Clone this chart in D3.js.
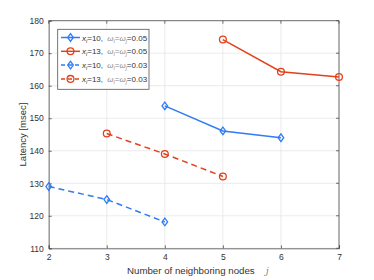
<!DOCTYPE html>
<html><head><meta charset="utf-8">
<script src="https://cdn.jsdelivr.net/npm/d3@7"></script>
<style>body{margin:0;background:#fff}svg{display:block}text{font-family:"Liberation Sans",Arial,sans-serif}</style>
</head><body>
<svg id="c" width="374" height="280"></svg>
<script>
const xTicks = [2,3,4,5,6,7];
const yTicks = [110,120,130,140,150,160,170,180];
const s1x = [4,5,6], s1y = [153.8,146.1,144.0];
const s2x = [5,6,7], s2y = [174.2,164.3,162.7];
const s3x = [2,3,4], s3y = [129.0,125.0,118.1];
const s4x = [3,4,5], s4y = [145.3,139.0,132.1];
const seriesNames = [["10","0.05"],["13","0.05"],["10","0.03"],["13","0.03"]];

const BLUE = "#2e7cf6", RED = "#e2411c";
const series = [
  {x:s1x,y:s1y,c:BLUE,m:"d",dash:null,n:seriesNames[0]},
  {x:s2x,y:s2y,c:RED,m:"o",dash:null,n:seriesNames[1]},
  {x:s3x,y:s3y,c:BLUE,m:"d",dash:"6,4",n:seriesNames[2]},
  {x:s4x,y:s4y,c:RED,m:"o",dash:"6,4",n:seriesNames[3]}
];
const svg = d3.select("#c");
const L=48.7,R=339,T=20.7,B=248.3;
const x = d3.scaleLinear().domain([2,7]).range([L,R]);
const y = d3.scaleLinear().domain([110,180]).range([B,T]);

// grid
svg.append("g").selectAll("line").data(xTicks).join("line")
  .attr("x1",d=>x(d)).attr("x2",d=>x(d)).attr("y1",T).attr("y2",B)
  .attr("stroke","#e6e6e6").attr("stroke-width",0.8);
svg.append("g").selectAll("line").data(yTicks).join("line")
  .attr("y1",d=>y(d)).attr("y2",d=>y(d)).attr("x1",L).attr("x2",R)
  .attr("stroke","#e6e6e6").attr("stroke-width",0.8);

// axes
const gx = svg.append("g").attr("transform",`translate(0,${B})`)
  .call(d3.axisBottom(x).tickValues(xTicks).tickSize(-3).tickPadding(6).tickFormat(d3.format("d")));
const gy = svg.append("g").attr("transform",`translate(${L},0)`)
  .call(d3.axisLeft(y).tickValues(yTicks).tickSize(-3).tickPadding(5).tickFormat(d3.format("d")));
[gx,gy].forEach(g=>{
  g.select(".domain").attr("stroke","#4d4d4d").attr("stroke-width",0.8);
  g.selectAll(".tick line").attr("stroke","#4d4d4d").attr("stroke-width",0.8);
  g.selectAll("text").attr("fill","#333").style("font-size","8.5px");
});
// top and right box lines + ticks
svg.append("line").attr("x1",L).attr("x2",R).attr("y1",T).attr("y2",T).attr("stroke","#4d4d4d").attr("stroke-width",0.8);
svg.append("line").attr("x1",R).attr("x2",R).attr("y1",T).attr("y2",B).attr("stroke","#4d4d4d").attr("stroke-width",0.8);
svg.append("g").selectAll("line").data(xTicks).join("line")
  .attr("x1",d=>x(d)).attr("x2",d=>x(d)).attr("y1",T).attr("y2",T+3).attr("stroke","#4d4d4d").attr("stroke-width",0.8);
svg.append("g").selectAll("line").data(yTicks).join("line")
  .attr("y1",d=>y(d)).attr("y2",d=>y(d)).attr("x1",R).attr("x2",R-3).attr("stroke","#4d4d4d").attr("stroke-width",0.8);

// labels
svg.append("text").attr("transform",`translate(23,${(T+B)/2}) rotate(-90)`)
  .attr("text-anchor","middle").attr("dominant-baseline","middle")
  .style("font-size","9.5px").attr("fill","#333").text("Latency [msec]");
const xl = svg.append("text").attr("x",127).attr("y",274)
  .style("font-size","9.7px").attr("fill","#333");
xl.append("tspan").text("Number of neighboring nodes");
xl.append("tspan").attr("dx","11").style("font-style","italic").style("font-family","'DejaVu Serif',serif").attr("fill","#888").text("j");

function marker(g,m,cx,cy,c){
  if(m==="d"){
    g.append("path").attr("d",`M${cx},${cy-3.8}L${cx+2.8},${cy}L${cx},${cy+3.8}L${cx-2.8},${cy}Z`)
     .attr("fill","none").attr("stroke",c).attr("stroke-width",1.3);
  } else {
    g.append("circle").attr("cx",cx).attr("cy",cy).attr("r",3.4)
     .attr("fill","none").attr("stroke",c).attr("stroke-width",1.3);
  }
}
const line = d3.line().x(d=>x(d[0])).y(d=>y(d[1]));
series.forEach(s=>{
  const pts = s.x.map((v,i)=>[v,s.y[i]]);
  svg.append("path").datum(pts).attr("d",line).attr("fill","none")
    .attr("stroke",s.c).attr("stroke-width",1.5).attr("stroke-dasharray",s.dash);
  const g = svg.append("g");
  pts.forEach(p=>marker(g,s.m,x(p[0]),y(p[1]),s.c));
});

// legend
const lg = svg.append("g");
lg.append("rect").attr("x",57.7).attr("y",29.3).attr("width",91.3).attr("height",60)
  .attr("fill","#fff").attr("stroke","#555").attr("stroke-width",0.8);
series.forEach((s,i)=>{
  const yy = 37.5 + i*13.8;
  lg.append("line").attr("x1",61).attr("x2",80).attr("y1",yy).attr("y2",yy)
    .attr("stroke",s.c).attr("stroke-width",1.5).attr("stroke-dasharray",s.dash?"4,3":null);
  marker(lg,s.m,70.5,yy,s.c);
  const t = lg.append("text").attr("x",82).attr("y",yy+3).style("font-size","8px").attr("fill","#333");
  t.append("tspan").style("font-style","italic").text("x");
  t.append("tspan").attr("dy",2).style("font-size","5.5px").style("font-style","italic").text("i");
  t.append("tspan").attr("dy",-2).text("="+s.n[0]+",  ");
  t.append("tspan").attr("dx",2).style("font-style","italic").attr("fill","#888").text("ω");
  t.append("tspan").attr("dy",2).style("font-size","5.5px").style("font-style","italic").attr("fill","#888").text("i");
  t.append("tspan").attr("dy",-2).attr("fill","#888").text("=");
  t.append("tspan").style("font-style","italic").attr("fill","#888").text("ω");
  t.append("tspan").attr("dy",2).style("font-size","5.5px").style("font-style","italic").attr("fill","#888").text("j");
  t.append("tspan").attr("dy",-2).text("="+s.n[1]);
});
</script>
</body></html>
